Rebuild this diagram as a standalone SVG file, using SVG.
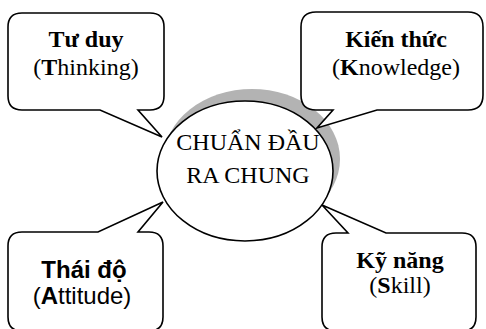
<svg xmlns="http://www.w3.org/2000/svg" width="486" height="329" viewBox="0 0 486 329">
<style>
.box{fill:#fff;stroke:#000;stroke-width:1.6;stroke-linejoin:miter}
.serif{font-family:"Liberation Serif","Times New Roman",serif;font-size:24px;fill:#000;text-anchor:middle}
.sans{font-family:"Liberation Sans",Arial,sans-serif;font-size:24px;fill:#000;text-anchor:middle}
.b{font-weight:bold}
</style>
<rect width="486" height="329" fill="#fff"/>
<g id="center">
<ellipse cx="252" cy="159" rx="88" ry="70" fill="#b3b3b3"/>
<ellipse cx="245" cy="171" rx="88" ry="70" class="box"/>
<text class="serif" x="248" y="150">CHUẨN ĐẦU</text>
<text class="serif" x="248" y="183">RA CHUNG</text>
</g>
<g id="connectors"></g>
<g id="thinking">
<path class="box" d="M22,13 H150 Q164,13 164,27 V96 Q164,110 150,110 H138 L162,137 L100,110 H22 Q8,110 8,96 V27 Q8,13 22,13 Z"/>
<text class="serif b" x="86" y="47">Tư duy</text>
<text class="serif" x="86" y="75">(<tspan font-weight="bold">T</tspan>hinking)</text>
</g>
<g id="knowledge">
<path class="box" d="M316,12 H468 Q483,12 483,27 V95 Q483,110 468,110 H377 L317,128 L333,110 H316 Q301,110 301,95 V27 Q301,12 316,12 Z"/>
<text class="serif b" x="396" y="47">Kiến thức</text>
<text class="serif" x="396" y="75">(<tspan font-weight="bold">K</tspan>nowledge)</text>
</g>
<g id="attitude">
<path class="box" d="M22,232 H98 L163,202 L138,232 H149 Q163,232 163,246 V317 Q163,331 149,331 H22 Q8,331 8,317 V246 Q8,232 22,232 Z"/>
<text class="sans b" x="84" y="278">Thái độ</text>
<text class="sans" x="82" y="304">(<tspan font-weight="bold">A</tspan>ttitude)</text>
</g>
<g id="skill">
<path class="box" d="M336,233 H348 L322,205 L386,233 H462 Q476,233 476,247 V317 Q476,331 462,331 H336 Q322,331 322,317 V247 Q322,233 336,233 Z"/>
<text class="serif b" x="400" y="268">Kỹ năng</text>
<text class="serif" x="400" y="293">(<tspan font-weight="bold">S</tspan>kill)</text>
</g>
</svg>
